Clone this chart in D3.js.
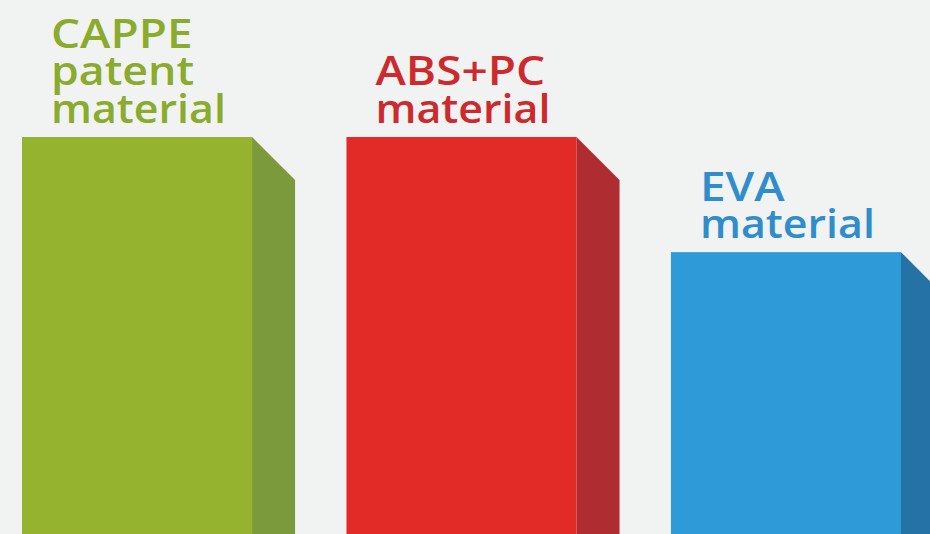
<!DOCTYPE html>
<html>
<head>
<meta charset="utf-8">
<script src="https://cdn.jsdelivr.net/npm/d3@7"></script>
<style>
  html, body { margin: 0; padding: 0; background: #f1f2f2; }
  svg { display: block; }
</style>
</head>
<body>
<svg id="chart" width="930" height="534"></svg>
<script>
const categories = ["CAPPE patent material", "ABS+PC material", "EVA material"];
const labelLines = [["CAPPE", "patent", "material"], ["ABS+PC", "material"], ["EVA", "material"]];
const values = [10, 10, 7.1];
const frontColors = ["#95b32e", "#e22b26", "#2e9bd8"];
const sideColors = ["#7b9a3c", "#af2c31", "#2472a6"];
const textColors = ["#8aab2b", "#cc2a2d", "#2f8dcc"];

const W = 930, H = 534;
const svg = d3.select("#chart");
svg.append("rect").attr("width", W).attr("height", H).attr("fill", "#f1f2f2");

const x = d3.scaleBand().domain(categories).range([22, 901]).paddingInner(0.291).paddingOuter(0);
const y = d3.scaleLinear().domain([0, 10]).range([H, 137]);
const depth = 43;

const g = svg.append("g");
categories.forEach((c, i) => {
  const x0 = x(c), bw = x.bandwidth(), top = y(values[i]), base = y(0);
  g.append("path")
    .attr("d", `M${x0 + bw},${top} L${x0 + bw + depth},${top + depth} L${x0 + bw + depth},${base + 10} L${x0 + bw},${base + 10} Z`)
    .attr("fill", sideColors[i]);
  g.append("rect").attr("x", x0).attr("y", top).attr("width", bw).attr("height", base - top + 10)
    .attr("fill", frontColors[i]);
  const lines = labelLines[i];
  const lh = 37.5;
  const lastBase = top - 14;
  lines.forEach((ln, j) => {
    const tg = g.append("g");
    const t = tg.append("text")
      .attr("x", 0)
      .attr("y", lastBase - (lines.length - 1 - j) * lh)
      .attr("font-family", "'Open Sans', sans-serif")
      .attr("font-weight", 600)
      .attr("font-size", 39)
      .attr("fill", textColors[i])
      .text(ln);
    // match the reference font's wider letterforms
    const probe = tg.append("text").attr("font-family", "'Open Sans', sans-serif")
      .attr("font-weight", 600).attr("font-size", 39).text("material");
    const refLen = probe.node().getComputedTextLength();
    probe.remove();
    let sx = 175 / refLen;
    if (ln === ln.toUpperCase()) sx *= 1.07;
    else if (ln !== "material") sx *= 1.04;
    tg.attr("transform", `translate(${x0 + 29},0) scale(${sx},1)`);
  });
});
</script>
</body>
</html>
